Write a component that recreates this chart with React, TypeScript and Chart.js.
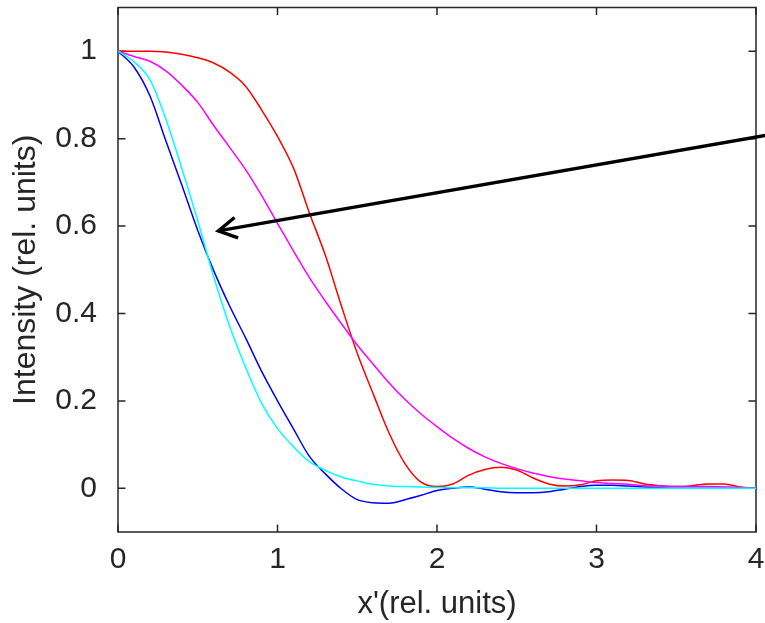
import React, { useEffect, useRef } from "react";
import { Chart, registerables } from "chart.js";

Chart.register(...registerables);

// Sample positions along x' (rel. units)
const xValues = [
  0.0, 0.1, 0.2, 0.3, 0.4, 0.5, 0.6, 0.7, 0.8, 0.9,
  1.0, 1.1, 1.2, 1.3, 1.4, 1.5, 1.6, 1.7, 1.8, 1.9,
  2.0, 2.1, 2.2, 2.3, 2.4, 2.5, 2.6, 2.7, 2.8, 2.9,
  3.0, 3.1, 3.2, 3.3, 3.4, 3.5, 3.6, 3.7, 3.8, 3.9,
  4.0,
];

// Intensity profiles (rel. units)
const redProfile = [
  1.0, 1.0, 1.0, 0.998, 0.993, 0.985, 0.973, 0.952, 0.92, 0.866,
  0.805, 0.733, 0.63, 0.533, 0.418, 0.309, 0.216, 0.126, 0.056, 0.014,
  0.004, 0.01, 0.03, 0.043, 0.048, 0.042, 0.024, 0.01, 0.005, 0.008,
  0.017, 0.019, 0.018, 0.01, 0.006, 0.004, 0.006, 0.01, 0.01, 0.003,
  0.0,
];

const magentaProfile = [
  1.0, 0.988, 0.977, 0.955, 0.922, 0.883, 0.83, 0.78, 0.729, 0.67,
  0.606, 0.543, 0.482, 0.428, 0.377, 0.328, 0.284, 0.241, 0.203, 0.17,
  0.141, 0.114, 0.091, 0.072, 0.057, 0.045, 0.035, 0.027, 0.021, 0.017,
  0.013, 0.011, 0.009, 0.006, 0.005, 0.004, 0.004, 0.004, 0.003, 0.002,
  0.0,
];

const blueProfile = [
  1.0, 0.964, 0.898, 0.795, 0.694, 0.59, 0.498, 0.417, 0.344, 0.268,
  0.2, 0.136, 0.073, 0.033, -0.001, -0.026, -0.033, -0.034, -0.026, -0.016,
  -0.005, 0.0, 0.003, -0.002, -0.008, -0.01, -0.01, -0.008, -0.002, 0.004,
  0.007, 0.007, 0.005, 0.003, 0.001, 0.0, 0.0, 0.0, 0.0, 0.0,
  0.0,
];

const cyanProfile = [
  1.0, 0.976, 0.935, 0.845, 0.732, 0.612, 0.484, 0.371, 0.277, 0.195,
  0.137, 0.095, 0.061, 0.041, 0.026, 0.017, 0.009, 0.005, 0.004, 0.003,
  0.002, 0.001, 0.001, 0.001, 0.0, 0.0, 0.0, 0.0, 0.0, 0.0,
  0.0, 0.0, 0.0, 0.0, 0.0, 0.0, 0.0, 0.0, 0.0, 0.0,
  0.0,
];

const xTicks = [0, 1, 2, 3, 4];
const yTicks = [0, 0.2, 0.4, 0.6, 0.8, 1];
const xTickLabels = ["0", "1", "2", "3", "4"];
const yTickLabels = ["0", "0.2", "0.4", "0.6", "0.8", "1"];

// Annotation arrow, in data units (tail runs off the right side)
const arrowTail = { x: 4.07, y: 0.808 };
const arrowTip = { x: 0.629, y: 0.589 };

const FONT = "'Liberation Sans', Arial, Helvetica, sans-serif";
const INK = "#262626";

const toPoints = (ys: number[]) => xValues.map((x, i) => ({ x, y: ys[i] }));

// Axes box with inward ticks on all four sides
const framePlugin = {
  id: "frame",
  beforeDatasetsDraw(chart: any) {
    const { ctx, chartArea, scales } = chart;
    const { left, right, top, bottom } = chartArea;
    const L = 7.5;
    ctx.save();
    ctx.strokeStyle = INK;
    ctx.lineWidth = 1.5;
    ctx.strokeRect(left, top, right - left, bottom - top);
    ctx.beginPath();
    for (const v of xTicks) {
      const px = scales.x.getPixelForValue(v);
      ctx.moveTo(px, bottom);
      ctx.lineTo(px, bottom - L);
      ctx.moveTo(px, top);
      ctx.lineTo(px, top + L);
    }
    for (const v of yTicks) {
      const py = scales.y.getPixelForValue(v);
      ctx.moveTo(left, py);
      ctx.lineTo(left + L, py);
      ctx.moveTo(right, py);
      ctx.lineTo(right - L, py);
    }
    ctx.stroke();
    ctx.restore();
  },
};

// Black arrow pointing at the crossing of the blue and cyan curves
const arrowPlugin = {
  id: "arrow",
  afterDatasetsDraw(chart: any) {
    const { ctx, scales } = chart;
    const tx = scales.x.getPixelForValue(arrowTail.x);
    const ty = scales.y.getPixelForValue(arrowTail.y);
    const hx = scales.x.getPixelForValue(arrowTip.x);
    const hy = scales.y.getPixelForValue(arrowTip.y);
    const ang = Math.atan2(ty - hy, tx - hx);
    const headLen = 21;
    const spread = (29.5 * Math.PI) / 180;
    ctx.save();
    ctx.strokeStyle = "#000000";
    ctx.lineWidth = 3.4;
    ctx.lineJoin = "miter";
    ctx.beginPath();
    ctx.moveTo(tx, ty);
    ctx.lineTo(hx, hy);
    ctx.stroke();
    ctx.beginPath();
    ctx.moveTo(hx + headLen * Math.cos(ang - spread), hy + headLen * Math.sin(ang - spread));
    ctx.lineTo(hx, hy);
    ctx.lineTo(hx + headLen * Math.cos(ang + spread), hy + headLen * Math.sin(ang + spread));
    ctx.stroke();
    ctx.restore();
  },
};

export default function App() {
  const canvasRef = useRef<HTMLCanvasElement | null>(null);

  useEffect(() => {
    if (!canvasRef.current) return;
    const line = (label: string, data: number[], color: string) => ({
      label,
      data: toPoints(data),
      borderColor: color,
      backgroundColor: color,
      borderWidth: 1.5,
      pointRadius: 0,
      fill: false,
      cubicInterpolationMode: "monotone" as const,
    });

    const chart = new Chart(canvasRef.current, {
      type: "line",
      data: {
        datasets: [
          line("cyan", cyanProfile, "#00ffff"),
          line("magenta", magentaProfile, "#ff00ff"),
          line("red", redProfile, "#ff0000"),
          line("blue", blueProfile, "#0000ff"),
        ],
      },
      options: {
        animation: false,
        responsive: false,
        events: [],
        layout: { padding: { top: 7.5, right: 9, left: 0, bottom: 0 } },
        plugins: {
          legend: { display: false },
          tooltip: { enabled: false },
        },
        scales: {
          x: {
            type: "linear",
            min: 0,
            max: 4,
            grid: { display: false },
            border: { display: false },
            afterBuildTicks: (scale: any) => {
              scale.ticks = xTicks.map((v) => ({ value: v }));
            },
            afterFit: (scale: any) => {
              scale.height = 91;
              scale.paddingLeft = 0;
              scale.paddingRight = 0;
            },
            ticks: {
              color: INK,
              font: { family: FONT, size: 30 },
              padding: 2,
              maxRotation: 0,
              callback: (v: any) => xTickLabels[xTicks.indexOf(Number(v))] ?? "",
            },
            title: {
              display: true,
              text: "x'(rel. units)",
              color: INK,
              font: { family: FONT, size: 31 },
              padding: { top: 0, bottom: 0 },
            },
          },
          y: {
            type: "linear",
            min: -0.1,
            max: 1.1,
            grid: { display: false },
            border: { display: false },
            afterBuildTicks: (scale: any) => {
              scale.ticks = yTicks.map((v) => ({ value: v }));
            },
            afterFit: (scale: any) => {
              scale.width = 118;
              scale.paddingTop = 0;
              scale.paddingBottom = 0;
            },
            ticks: {
              color: INK,
              font: { family: FONT, size: 30 },
              padding: 13,
              callback: (v: any) => {
                const i = yTicks.findIndex((t) => Math.abs(t - Number(v)) < 1e-9);
                return i >= 0 ? yTickLabels[i] : "";
              },
            },
            title: {
              display: true,
              text: "Intensity (rel. units)",
              color: INK,
              font: { family: FONT, size: 32 },
              padding: { top: 7, bottom: 0 },
            },
          },
        },
      },
      plugins: [framePlugin, arrowPlugin],
    });
    return () => chart.destroy();
  }, []);

  return (
    <div style={{ position: "absolute", left: 0, top: 0, width: 765, height: 623, background: "#ffffff" }}>
      <canvas ref={canvasRef} width={765} height={623} />
    </div>
  );
}
